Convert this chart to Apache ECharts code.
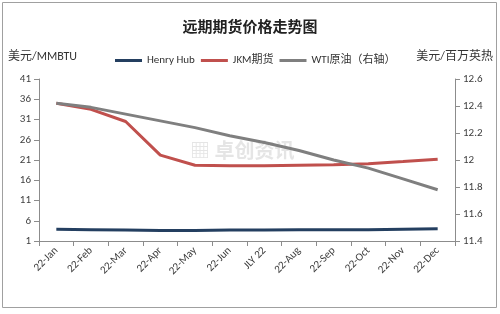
<!DOCTYPE html>
<html><head><meta charset="utf-8">
<script src="https://cdn.jsdelivr.net/npm/echarts@6/dist/echarts.min.js"></script>
<style>html,body{margin:0;padding:0;background:#fff}#c{width:500px;height:314px}</style>
</head><body><div id="c"></div>
<script>
const categories = ['22-Jan','22-Feb','22-Mar','22-Apr','22-May','22-Jun','JLY 22','22-Aug','22-Sep','22-Oct','22-Nov','22-Dec'];
const henryHub = [3.9,3.8,3.7,3.6,3.6,3.7,3.7,3.8,3.8,3.8,3.9,4.0];
const jkm = [35.0,33.5,30.5,22.2,19.7,19.6,19.6,19.7,19.8,20.1,20.6,21.2];
const wti = [12.42,12.39,12.34,12.29,12.24,12.18,12.13,12.07,12.00,11.94,11.86,11.78];
const leftTicks = [1,41,5];
const rightTicks = [11.4,12.6,0.2];

const chart = echarts.init(document.getElementById('c'));
const font = 'Carlito, Lato, "Noto Sans CJK SC", sans-serif';
chart.setOption({
  animation:false,
  title:{text:'远期期货价格走势图',left:'center',top:14,textStyle:{fontSize:15,fontWeight:'bold',color:'#222',fontFamily:'"Noto Sans CJK SC", serif'}},
  legend:{top:50,left:110,itemGap:6,itemWidth:27,itemHeight:3,icon:'rect',
    textStyle:{fontSize:11,color:'#333',fontFamily:font},
    data:['Henry Hub','JKM期货','WTI原油（右轴）']},
  graphic:[
    {type:'rect',shape:{x:2.5,y:2.5,width:494,height:305},style:{fill:'none',stroke:'#a0a0a0',lineWidth:1}},
    {type:'text',left:8,top:51,style:{text:'美元/MMBTU',fontSize:12,fill:'#333',fontFamily:font}},
    {type:'text',right:7,top:51,style:{text:'美元/百万英热',fontSize:12,fill:'#333',fontFamily:font}},
    {type:'text',left:190,top:140,z:0,style:{text:'▦ 卓创资讯',fontSize:20,fontWeight:'bold',fill:'rgba(180,180,180,0.35)',fontFamily:'"Noto Sans CJK SC", sans-serif'}}
  ],
  grid:{left:39,right:45,top:79,bottom:73},
  xAxis:{type:'category',data:categories,boundaryGap:true,
    axisLine:{lineStyle:{color:'#8c8c8c'}},axisTick:{show:true,alignWithLabel:false,length:5,lineStyle:{color:'#8c8c8c'}},
    axisLabel:{rotate:45,fontSize:11,color:'#404040',fontFamily:font,margin:8,interval:0}},
  yAxis:[
    {type:'value',min:leftTicks[0],max:leftTicks[1],interval:leftTicks[2],
     splitLine:{show:false},axisLine:{show:true,lineStyle:{color:'#8c8c8c'}},
     axisTick:{show:true,length:5,lineStyle:{color:'#8c8c8c'}},
     axisLabel:{fontSize:11,color:'#404040',fontFamily:font,margin:8}},
    {type:'value',min:rightTicks[0],max:rightTicks[1],interval:rightTicks[2],position:'right',
     splitLine:{show:false},axisLine:{show:true,lineStyle:{color:'#8c8c8c'}},
     axisTick:{show:true,length:5,lineStyle:{color:'#8c8c8c'}},
     axisLabel:{fontSize:11,color:'#404040',fontFamily:font,margin:8,formatter:v=>String(+v.toFixed(1))}}
  ],
  series:[
    {name:'Henry Hub',type:'line',data:henryHub,yAxisIndex:0,symbol:'none',lineStyle:{width:3,color:'#243f60'},itemStyle:{color:'#243f60'}},
    {name:'JKM期货',type:'line',data:jkm,yAxisIndex:0,symbol:'none',lineStyle:{width:3,color:'#c0504d'},itemStyle:{color:'#c0504d'}},
    {name:'WTI原油（右轴）',type:'line',data:wti,yAxisIndex:1,symbol:'none',lineStyle:{width:3,color:'#7f7f7f'},itemStyle:{color:'#7f7f7f'}}
  ]
});
</script></body></html>
